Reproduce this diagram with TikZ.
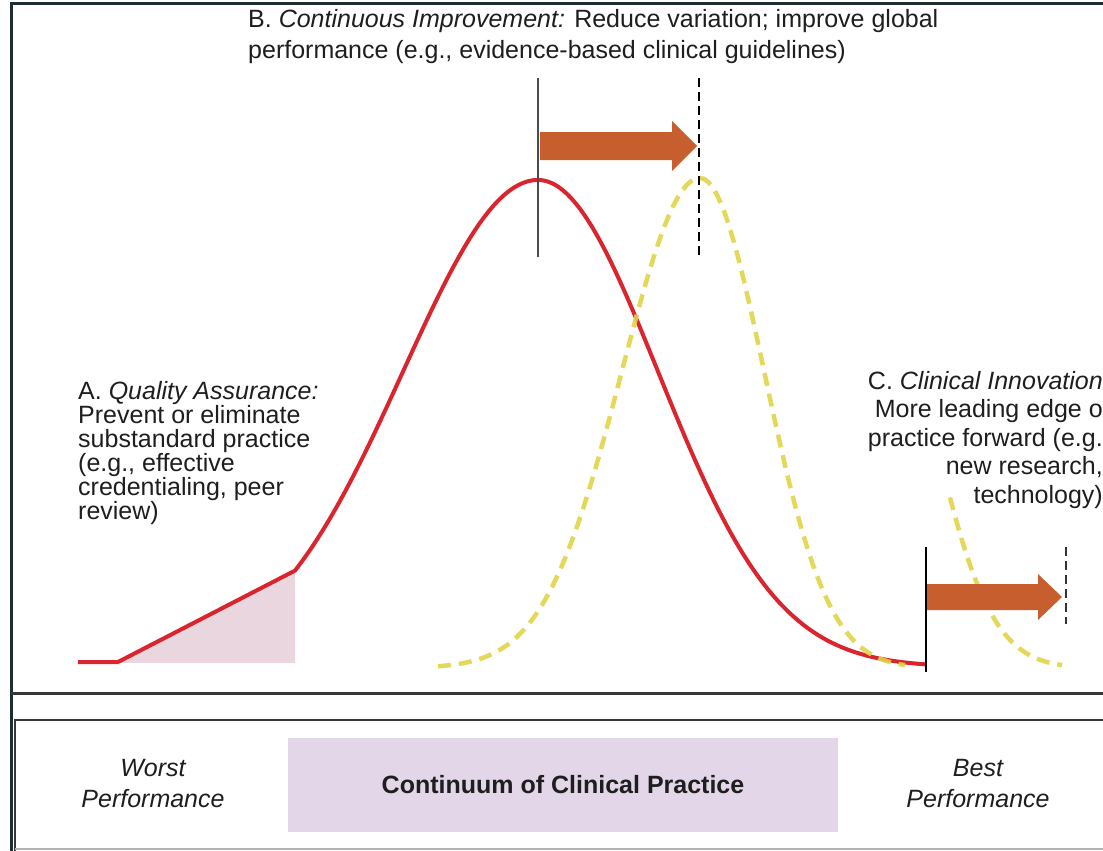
\documentclass[tikz,border=0pt]{standalone}
\usepackage{fontspec}
\setmainfont{Liberation Sans}
\definecolor{redc}{RGB}{218,36,46}
\definecolor{yelc}{RGB}{224,212,72}
\definecolor{arrc}{RGB}{198,94,45}
\definecolor{fillA}{RGB}{234,214,222}
\definecolor{purp}{RGB}{227,214,232}
\definecolor{framec}{RGB}{28,46,52}
\definecolor{sepc}{RGB}{55,55,55}
\definecolor{txt}{RGB}{30,30,30}
\tikzset{
  lbl/.style={inner sep=0pt, text=txt},
  redline/.style={redc, line width=4pt, line join=round},
  yelline/.style={yelc, line width=4.5pt, dash pattern=on 13pt off 8pt, opacity=0.9},
  solidmark/.style={line width=2.8pt},
  dashmark/.style={line width=2.6pt, dash pattern=on 9pt off 5pt},
  blockarrow/.style={fill=arrc}
}
\begin{document}
\begin{tikzpicture}[x=1pt,y=-1pt]
\useasboundingbox (0,0) rectangle (1103,851);
% frame and separators
\draw[framec, line width=3pt] (11,851) -- (11,4) -- (1103,4);
\draw[sepc, line width=3pt] (11,693) -- (1103,693);
\draw[sepc, line width=2.5pt] (15,851) -- (15,720) -- (1103,720);
\draw[gray!60, line width=2pt] (15,849) -- (1103,849);
% shaded area
\fill[fillA] (118,663) -- (295,570.6) -- (295,663) -- cycle;
% red curve
\draw[redline] (78,662) -- (118,662)
  -- plot[domain=295:538, samples=50] (\x, {667-487*exp(-0.5*((\x-538)/135)^2)})
  -- plot[domain=538:926, samples=80] (\x, {667-487*exp(-0.5*((\x-538)/120)^2)});
% yellow curves
\draw[yelline] plot[domain=438:700, samples=60] (\x, {668-490*exp(-0.5*((\x-700)/78)^2)})
  -- plot[domain=700:905, samples=50] (\x, {668-490*exp(-0.5*((\x-700)/64)^2)});
\draw[yelline] plot[domain=950:1062, samples=40] (\x, {668-490*exp(-0.5*((\x-857)/64)^2)});
% markers B
\coordinate (bs1) at (538,78); \coordinate (bs2) at (538,257);
\coordinate (bd1) at (699,78); \coordinate (bd2) at (699,258);
\draw[solidmark, black!70] (bs1) -- (bs2);
\draw[dashmark, black] (bd1) -- (bd2);
% markers C
\coordinate (cs1) at (926,547); \coordinate (cs2) at (926,672);
\coordinate (cd1) at (1066,547); \coordinate (cd2) at (1066,624);
\draw[solidmark, black] (cs1) -- (cs2);
\draw[dashmark, black!80] (cd1) -- (cd2);
% block arrows
\fill[blockarrow] (540,132) -- (672,132) -- (672,121) -- (697,146) -- (672,171) -- (672,160) -- (540,160) -- cycle;
\fill[blockarrow] (927,584) -- (1038,584) -- (1038,574) -- (1062,597) -- (1038,620) -- (1038,610) -- (927,610) -- cycle;
% texts
\node[lbl, anchor=north west, align=left, font={\fontsize{25}{31}\selectfont}] (B) at (248,9)
  {B. \textit{Continuous Improvement:} Reduce variation; improve global\\performance (e.g., evidence-based clinical guidelines)};
\node[lbl, anchor=north west, align=left, font={\fontsize{25}{24}\selectfont}] (A) at (78,381)
  {A. \textit{Quality Assurance:}\\Prevent or eliminate\\substandard practice\\(e.g., effective\\credentialing, peer\\review)};
\node[lbl, anchor=north east, align=right, font={\fontsize{25}{28.5}\selectfont}] (C) at (1103,371)
  {C. \textit{Clinical Innovation}\\More leading edge o\\practice forward (e.g.\\new research,\\technology)};
% bottom scale
\node[fill=purp, minimum width=550pt, minimum height=94pt, inner sep=0pt, text=txt,
  font={\fontsize{25}{31}\selectfont\bfseries}] (cont) at (563,785) {Continuum of Clinical Practice};
\node[lbl, anchor=north, align=center, font={\fontsize{25}{31}\selectfont\itshape}] (worst) at (153,759) {Worst\\Performance};
\node[lbl, anchor=north, align=center, font={\fontsize{25}{31}\selectfont\itshape}] (best) at (978,759) {Best\\Performance};
\end{tikzpicture}
\end{document}
